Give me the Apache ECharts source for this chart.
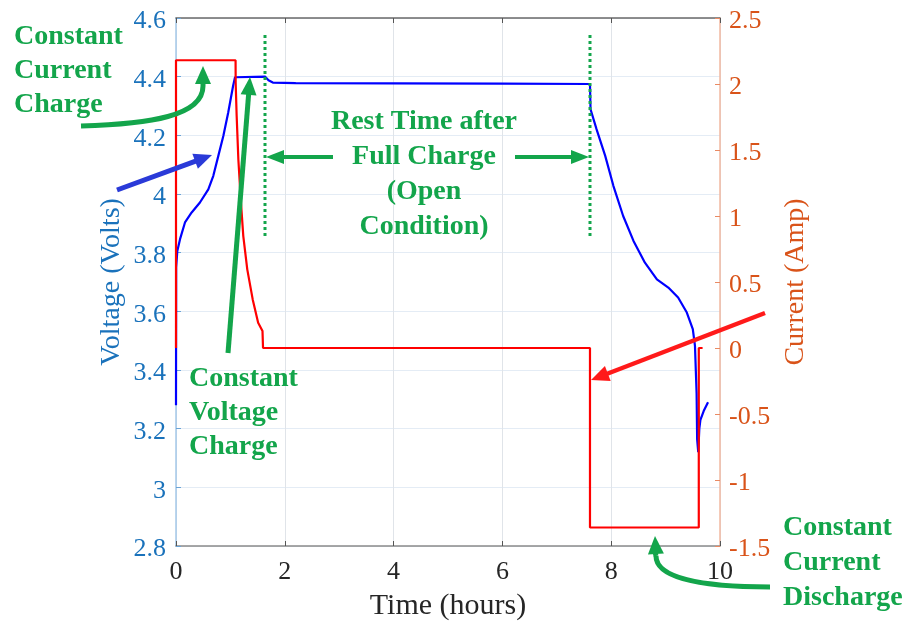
<!DOCTYPE html>
<html>
<head>
<meta charset="utf-8">
<script src="https://cdn.jsdelivr.net/npm/echarts@6/dist/echarts.min.js"></script>
<style>html,body{margin:0;padding:0;background:#fff;}#c{width:911px;height:622px;}</style>
</head>
<body>
<div id="c"></div>
<script>
// ---- data ----
const voltTime = [0, 0.003, 0.024, 0.074, 0.165, 0.288, 0.44, 0.594, 0.686, 0.778, 0.87, 0.96, 1.05, 1.085, 1.10, 1.64, 1.70, 1.78, 2.2, 4, 6, 7.61, 7.62, 7.73, 7.89, 8.04, 8.22, 8.41, 8.62, 8.84, 9.05, 9.23, 9.39, 9.50, 9.54, 9.57, 9.58, 9.60, 9.62, 9.64, 9.70, 9.78];
const voltage  = [3.28, 3.75, 3.806, 3.846, 3.903, 3.937, 3.971, 4.016, 4.062, 4.130, 4.198, 4.278, 4.369, 4.398, 4.40, 4.40, 4.388, 4.380, 4.378, 4.377, 4.376, 4.375, 4.289, 4.221, 4.130, 4.028, 3.925, 3.840, 3.766, 3.709, 3.681, 3.647, 3.596, 3.539, 3.482, 3.32, 3.163, 3.12, 3.20, 3.23, 3.26, 3.29];
const currTime = [0, 0, 1.095, 1.097, 1.115, 1.146, 1.19, 1.237, 1.31, 1.41, 1.51, 1.59, 1.60, 1.60, 7.61, 7.61, 9.61, 9.61, 9.68];
const current  = [0, 2.18, 2.18, 2.01, 1.76, 1.43, 1.127, 0.848, 0.596, 0.368, 0.191, 0.128, 0.128, 0, 0, -1.36, -1.36, 0, 0];
const timeTicks = [0, 10, 2];        // min, max, interval
const voltTicks = [2.8, 4.6, 0.2];
const currTicks = [-1.5, 2.5, 0.5];

const FONT = '"Liberation Serif", "Times New Roman", serif';
const GREEN = '#13a54b';
const voltSeries = voltTime.map((t, i) => [t, voltage[i]]);
const currSeries = currTime.map((t, i) => [t, current[i]]);
const fmt = v => '{a|' + String(+(+v).toFixed(2)) + '}';

// ---- annotation helpers ----
function head(tx, ty, fx, fy, len, hw, color) {
  const dx = tx - fx, dy = ty - fy, d = Math.hypot(dx, dy);
  const ux = dx / d, uy = dy / d, bx = tx - ux * len, by = ty - uy * len;
  const px = -uy, py = ux;
  return {type: 'polygon', z: 100, shape: {points: [[tx, ty], [bx + px * hw, by + py * hw], [bx - px * hw, by - py * hw]]}, style: {fill: color}};
}
function arrow(x1, y1, x2, y2, color, w, len, hw) {
  const dx = x2 - x1, dy = y2 - y1, d = Math.hypot(dx, dy);
  const ex = x2 - dx / d * (len - 2), ey = y2 - dy / d * (len - 2);
  return [
    {type: 'line', z: 100, shape: {x1: x1, y1: y1, x2: ex, y2: ey}, style: {stroke: color, lineWidth: w}},
    head(x2, y2, x1, y1, len, hw, color)
  ];
}
function curved(p0, c1, c2, p3, tip, color, w, len, hw) {
  return [
    {type: 'bezierCurve', z: 100, shape: {x1: p0[0], y1: p0[1], cpx1: c1[0], cpy1: c1[1], cpx2: c2[0], cpy2: c2[1], x2: p3[0], y2: p3[1]}, style: {stroke: color, lineWidth: w, fill: null}},
    {type: 'line', z: 100, shape: {x1: p3[0], y1: p3[1], x2: tip[0], y2: tip[1] + (p3[1] > tip[1] ? len - 2 : -(len - 2))}, style: {stroke: color, lineWidth: w}},
    head(tip[0], tip[1], p3[0], p3[1], len, hw, color)
  ];
}
function label(lines, x, y0, lh, align) {
  return lines.map((s, i) => ({type: 'text', z: 101, x: x, y: y0 + i * lh,
    style: {text: s, fill: GREEN, font: 'bold 28px ' + FONT, textAlign: align, textVerticalAlign: 'middle'}}));
}
function dotted(x, y1, y2) {
  return {type: 'line', z: 100, shape: {x1: x, y1: y1, x2: x, y2: y2}, style: {stroke: GREEN, lineWidth: 3, lineDash: [3, 3]}};
}

const graphics = [].concat(
  label(['Constant', 'Current', 'Charge'], 14, 37, 34, 'left'),
  label(['Constant', 'Voltage', 'Charge'], 189, 379, 34, 'left'),
  label(['Rest Time after', 'Full Charge', '(Open', 'Condition)'], 424, 122, 35, 'center'),
  label(['Constant', 'Current', 'Discharge'], 783, 528, 35, 'left'),
  curved([81, 126], [150, 124], [203, 116], [203, 86], [203, 66], GREEN, 5, 18, 8),
  curved([770, 587], [700, 587], [656, 578], [656, 556], [655, 536], GREEN, 5, 18, 8),
  arrow(117, 190, 212, 155, '#2a3ad8', 5, 18, 8),
  arrow(228, 353, 250, 77, GREEN, 5, 18, 8),
  arrow(333, 157, 266, 157, GREEN, 4, 18, 7),
  arrow(515, 157, 589, 157, GREEN, 4, 18, 7),
  arrow(765, 313, 591, 380, '#ff1a1a', 4.5, 18, 8),
  [dotted(265, 35, 238), dotted(590, 35, 238)]
);

const chart = echarts.init(document.getElementById('c'), null, {renderer: 'canvas'});
chart.setOption({
  animation: false,
  backgroundColor: '#ffffff',
  grid: {left: 176, right: 191, top: 18, bottom: 76, containLabel: false, outerBoundsMode: 'none'},
  xAxis: [{
    type: 'value', min: timeTicks[0], max: timeTicks[1], interval: timeTicks[2], position: 'bottom',
    axisLine: {show: true, onZero: false, lineStyle: {color: '#8a8a8a', width: 1.5}},
    axisTick: {show: true, inside: true, length: 5, lineStyle: {color: '#555'}},
    axisLabel: {color: '#262626', fontSize: 26, fontFamily: FONT, margin: 13},
    splitLine: {show: true, lineStyle: {color: '#e0e4e9', width: 1}},
    name: 'Time (hours)', nameLocation: 'middle', nameGap: 45, nameMoveOverlap: false,
    nameTextStyle: {color: '#262626', fontSize: 30, fontFamily: FONT}
  }, {
    type: 'value', min: timeTicks[0], max: timeTicks[1], interval: timeTicks[2], position: 'top',
    axisLine: {show: true, onZero: false, lineStyle: {color: '#6a6a6a', width: 1.5}},
    axisTick: {show: true, inside: true, length: 5, lineStyle: {color: '#555'}},
    axisLabel: {show: false}, splitLine: {show: false}
  }],
  yAxis: [{
    type: 'value', min: voltTicks[0], max: voltTicks[1], interval: voltTicks[2], position: 'left',
    axisLine: {show: true, onZero: false, lineStyle: {color: '#a5c8e8', width: 1.5}},
    axisTick: {show: true, inside: true, length: 5, lineStyle: {color: '#6aa3d6'}},
    axisLabel: {margin: 10, formatter: fmt,
      rich: {a: {color: '#1a72bb', fontSize: 26, fontFamily: FONT, padding: [7, 0, 0, 0]}}},
    splitLine: {show: true, lineStyle: {color: '#e4ecf5', width: 1}},
    name: 'Voltage (Volts)', nameLocation: 'middle', nameRotate: 90, nameGap: 50, nameMoveOverlap: false,
    nameTextStyle: {color: '#1a72bb', fontSize: 28, fontFamily: FONT}
  }, {
    type: 'value', min: currTicks[0], max: currTicks[1], interval: currTicks[2], position: 'right',
    axisLine: {show: true, onZero: false, lineStyle: {color: '#f2b9a0', width: 1.5}},
    axisTick: {show: true, inside: true, length: 5, lineStyle: {color: '#e98a63'}},
    axisLabel: {margin: 9, formatter: fmt,
      rich: {a: {color: '#d95319', fontSize: 26, fontFamily: FONT, padding: [7, 0, 0, 0]}}},
    splitLine: {show: false},
    name: 'Current (Amp)', nameLocation: 'middle', nameRotate: 90, nameGap: 62, nameMoveOverlap: false,
    nameTextStyle: {color: '#d95319', fontSize: 28, fontFamily: FONT}
  }],
  series: [{
    name: 'Voltage', type: 'line', xAxisIndex: 0, yAxisIndex: 0, data: voltSeries,
    showSymbol: false, symbol: 'none', clip: false, z: 3,
    lineStyle: {color: '#0000ff', width: 2.2}
  }, {
    name: 'Current', type: 'line', xAxisIndex: 0, yAxisIndex: 1, data: currSeries,
    showSymbol: false, symbol: 'none', clip: false, z: 4,
    lineStyle: {color: '#ff0000', width: 2.2}
  }],
  graphic: graphics
});
</script>
</body>
</html>
